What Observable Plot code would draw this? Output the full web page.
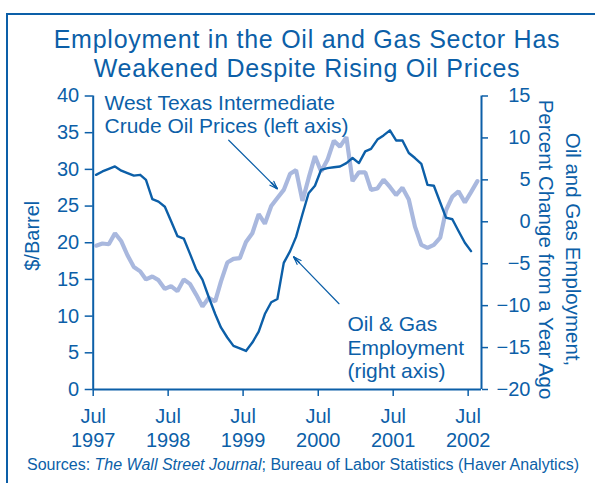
<!DOCTYPE html>
<html>
<head>
<meta charset="utf-8">
<script src="https://cdn.jsdelivr.net/npm/d3@7"></script>
<script src="https://cdn.jsdelivr.net/npm/@observablehq/plot@0.6"></script>
<style>
  body { margin: 0; background: #fff; }
  #wrap { position: relative; width: 595px; height: 483px; overflow: hidden;
          font-family: "Liberation Sans", Arial, sans-serif; color: #0c5fa8; }
  #frame { position: absolute; left: 6px; top: 13px; width: 700px; height: 700px;
           border-left: 2px solid #0c5fa8; border-top: 2px solid #0c5fa8; }
  #title { position: absolute; left: 0; top: 25px; width: 614px; text-align: center;
           font-size: 25px; line-height: 29px; letter-spacing: 0.75px; }
  #chart { position: absolute; left: 0; top: 88px; }
  #source { position: absolute; left: 27px; top: 455.5px; font-size: 16px; line-height: 18px; white-space: nowrap; }
</style>
</head>
<body>
<div id="wrap">
  <div id="frame"></div>
  <div id="title">Employment in the Oil and Gas Sector Has<br>Weakened Despite Rising Oil Prices</div>
  <div id="chart"></div>
  <div id="source">Sources: <i>The Wall Street Journal</i>; Bureau of Labor Statistics (Haver Analytics)</div>
</div>
<script>
// Monthly series, July 1997 onward
const startYear = 1997, startMonth = 6; // July (0-based)

// West Texas Intermediate crude oil price, $/barrel (Jul 1997 – Aug 2002)
const oilPrice = [
  19.6, 19.9, 19.8, 21.3, 20.2, 18.3,
  16.7, 16.1, 15.0, 15.4, 14.9, 13.7, 14.1, 13.4, 15.0, 14.4, 12.9, 11.3,
  12.5, 12.0, 14.7, 17.3, 17.8, 17.9, 20.1, 21.3, 23.9, 22.6, 25.0, 26.1,
  27.2, 29.4, 29.9, 25.7, 28.8, 31.8, 29.7, 31.3, 33.9, 33.1, 34.4, 28.4,
  29.6, 29.6, 27.2, 27.4, 28.6, 27.6, 26.5, 27.5, 25.9, 22.2, 19.7, 19.3,
  19.7, 20.7, 24.4, 26.3, 27.0, 25.5, 26.9, 28.4
];

// Oil & gas employment, percent change from a year ago (Jul 1997 – Jul 2002)
const empChange = [
  5.6, 6.0, 6.3, 6.6, 6.1, 5.8,
  5.5, 5.6, 5.0, 2.7, 2.4, 1.8, 0.1, -1.7, -2.0, -3.8, -5.7, -6.9,
  -9.0, -11.0, -12.6, -13.8, -14.8, -15.1, -15.4, -14.4, -13.1, -11.0, -9.6, -9.2,
  -4.9, -3.5, -1.8, 0.9, 3.4, 4.3, 6.2, 6.4, 6.5, 6.6, 7.0, 7.6,
  7.0, 8.4, 8.7, 9.8, 10.3, 10.9, 9.7, 9.7, 8.2, 7.6, 6.9, 4.4,
  4.3, 2.3, 0.5, 0.3, -1.1, -2.5, -3.5
];

// Axis ticks
const leftTicks = [0, 5, 10, 15, 20, 25, 30, 35, 40];
const rightTicks = [-20, -15, -10, -5, 0, 5, 10, 15];
const tickYears = [1997, 1998, 1999, 2000, 2001, 2002];

const blue = "#0c5fa8";
const light = "#a9b8de";

const leftDomain = [0, 40];
const rightDomain = [-20, 15];
const toLeft = e => (e - rightDomain[0]) * (leftDomain[1] - leftDomain[0]) / (rightDomain[1] - rightDomain[0]);
const fromLeft = v => v * (rightDomain[1] - rightDomain[0]) / (leftDomain[1] - leftDomain[0]) + rightDomain[0];

const monthDate = i => new Date(Date.UTC(startYear, startMonth + i, 15));
const oilData = oilPrice.map((v, i) => ({date: monthDate(i), v}));
const empData = empChange.map((v, i) => ({date: monthDate(i), v}));
const julTicks = tickYears.map(y => new Date(Date.UTC(y, 6, 1)));

const xDomain = [new Date(Date.UTC(1997, 6, 1)), new Date(Date.UTC(2002, 8, 4))];

const minus = n => (n < 0 ? "\u2212" + Math.abs(n) : String(n));

// Annotations (placed in data coordinates)
const notes = [
  {date: new Date(Date.UTC(1997, 7, 25)), y: 40.33, text: "West Texas Intermediate\nCrude Oil Prices (left axis)"},
  {date: new Date(Date.UTC(2000, 10, 20)), y: 10.18, text: "Oil & Gas\nEmployment\n(right axis)"}
];
const arrows = [
  {x1: new Date(Date.UTC(1999, 3, 22)), y1: 33.97, x2: new Date(Date.UTC(1999, 11, 14)), y2: 27.38},
  {x1: new Date(Date.UTC(2000, 9, 10)), y1: 11.69, x2: new Date(Date.UTC(2000, 2, 4)), y2: 18.05}
];
// Short copies near the tip, with nested head angles, give a filled-looking head
const heads = arrows.map(a => ({
  x1: new Date(+a.x2 + (a.x1 - a.x2) * 0.12), y1: a.y2 + (a.y1 - a.y2) * 0.12, x2: a.x2, y2: a.y2
}));
const headAngles = [30, 20, 10];

const chart = Plot.plot({
  width: 595,
  height: 367,
  marginLeft: 92.7,
  marginRight: 114,
  marginTop: 7.5,
  marginBottom: 66,
  style: {fontFamily: "'Liberation Sans', Arial, sans-serif", fontSize: "20px", color: blue, background: "transparent", overflow: "visible"},
  x: {type: "utc", domain: xDomain},
  y: {domain: leftDomain},
  marks: [
    Plot.axisY(leftTicks, {anchor: "left", tickSize: 8, tickPadding: 6, strokeWidth: 1.5, label: null}),
    Plot.axisY(rightTicks.map(toLeft), {anchor: "right", tickSize: 6, tickPadding: 43, textAnchor: "end",
      strokeWidth: 1.5, tickFormat: v => minus(Math.round(fromLeft(v))), label: null}),
    Plot.axisX(julTicks, {anchor: "bottom", tickSize: 7, tickPadding: 10, strokeWidth: 1.5,
      tickFormat: d => "Jul\n" + d.getUTCFullYear(), lineHeight: 1.17, label: null}),
    Plot.ruleX(xDomain, {stroke: blue, strokeWidth: 2}),
    Plot.ruleY([0], {stroke: blue, strokeWidth: 2}),
    Plot.line(oilData, {x: "date", y: "v", stroke: light, strokeWidth: 4.2, strokeLinejoin: "miter"}),
    Plot.line(empData, {x: "date", y: d => toLeft(d.v), stroke: blue, strokeWidth: 2.4}),
    Plot.text(notes, {x: "date", y: "y", text: "text", textAnchor: "start", lineAnchor: "top",
      lineHeight: 1.11, fontSize: 21, fill: blue}),
    Plot.arrow(arrows, {x1: "x1", y1: "y1", x2: "x2", y2: "y2", stroke: blue, strokeWidth: 1.2,
      headLength: 10, headAngle: 40}),
    ...headAngles.map(a => Plot.arrow(heads, {x1: "x1", y1: "y1", x2: "x2", y2: "y2", stroke: blue, strokeWidth: 1.3,
      headLength: 10, headAngle: a})),
    Plot.text(["$/Barrel"], {frameAnchor: "left", textAnchor: "middle", dx: -60.2, dy: -7, rotate: -90, fontSize: 20, fill: blue}),
    Plot.text(["Oil and Gas Employment,\nPercent Change from a Year Ago"], {frameAnchor: "right", textAnchor: "middle",
      dx: 79.75, dy: 6.75, rotate: 90, fontSize: 20.5, lineHeight: 1.3, fill: blue})
  ]
});
document.getElementById("chart").appendChild(chart);
</script>
</body>
</html>
